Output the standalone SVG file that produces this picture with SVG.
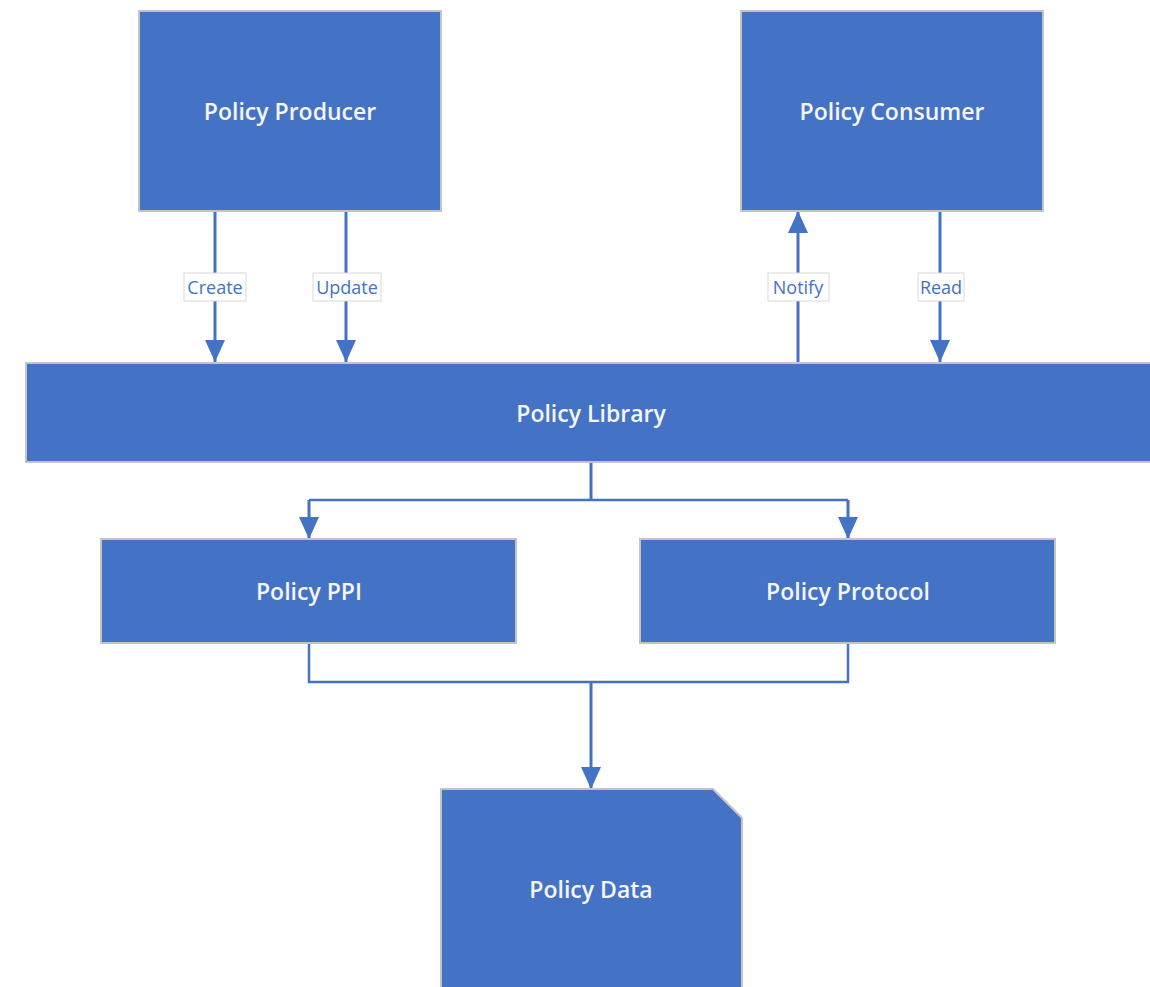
<svg xmlns="http://www.w3.org/2000/svg" width="1150" height="987" viewBox="0 0 1150 987">
  <defs>
    <style>
      .box { fill: #4472c4; stroke: #c4c4c4; stroke-width: 2; }
      .title { font-family: "Open Sans", "Noto Sans", sans-serif; font-size: 23px; font-weight: 600; fill: #f4f6fb; text-anchor: middle; dominant-baseline: central; }
      .wire { fill: none; stroke: #4472c4; stroke-width: 3; }
      .thin { fill: none; stroke: #4472c4; stroke-width: 2.5; }
      .tagbox { fill: #ffffff; stroke: #d9d9d9; stroke-width: 1; }
      .tag { font-family: "Open Sans", "Noto Sans", sans-serif; font-size: 18px; fill: #4472c4; text-anchor: middle; dominant-baseline: central; }
    </style>
    <marker id="arrow" viewBox="0 0 22 20" refX="22" refY="10" markerWidth="22" markerHeight="20" markerUnits="userSpaceOnUse" orient="auto">
      <path d="M0,0 L22,10 L0,20 Z" fill="#4472c4"/>
    </marker>
  </defs>

  <rect width="1150" height="987" fill="#ffffff"/>

  <!-- connectors -->
  <g id="connectors">
    <path class="wire" d="M215,211 V362" marker-end="url(#arrow)"/>
    <path class="wire" d="M346,211 V362" marker-end="url(#arrow)"/>
    <path class="wire" d="M798,362 V211" marker-end="url(#arrow)"/>
    <path class="wire" d="M940,211 V362" marker-end="url(#arrow)"/>
    <path class="wire" d="M591,462 V500"/>
    <path class="thin" d="M309,500 H848"/>
    <path class="wire" d="M309,500 V539" marker-end="url(#arrow)"/>
    <path class="wire" d="M848,500 V539" marker-end="url(#arrow)"/>
    <path class="thin" d="M309,643 V682 H848 V643"/>
    <path class="wire" d="M591,682 V789" marker-end="url(#arrow)"/>

    <rect class="tagbox" x="184" y="273" width="62" height="28"/>
    <text class="tag" x="215" y="287">Create</text>
    <rect class="tagbox" x="313" y="273" width="68" height="28"/>
    <text class="tag" x="347" y="287">Update</text>
    <rect class="tagbox" x="768" y="273" width="61" height="28"/>
    <text class="tag" x="798" y="287">Notify</text>
    <rect class="tagbox" x="918" y="273" width="46" height="28"/>
    <text class="tag" x="941" y="287">Read</text>
  </g>

  <g id="policy-producer">
    <rect class="box" x="139" y="11" width="302" height="200"/>
    <text class="title" x="290" y="111">Policy Producer</text>
  </g>

  <g id="policy-consumer">
    <rect class="box" x="741" y="11" width="302" height="200"/>
    <text class="title" x="892" y="111">Policy Consumer</text>
  </g>

  <g id="policy-library">
    <rect class="box" x="26" y="363" width="1130" height="99"/>
    <text class="title" x="591" y="413">Policy Library</text>
  </g>

  <g id="policy-ppi">
    <rect class="box" x="101" y="539" width="415" height="104"/>
    <text class="title" x="309" y="591">Policy PPI</text>
  </g>

  <g id="policy-protocol">
    <rect class="box" x="640" y="539" width="415" height="104"/>
    <text class="title" x="848" y="591">Policy Protocol</text>
  </g>

  <g id="policy-data">
    <path class="box" d="M441,789 H713 L742,818 V995 H441 Z"/>
    <text class="title" x="591" y="889">Policy Data</text>
  </g>
</svg>
